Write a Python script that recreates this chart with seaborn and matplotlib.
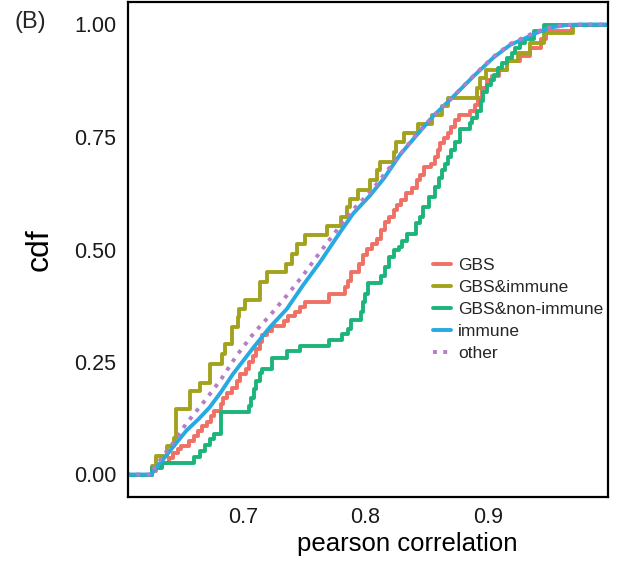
import matplotlib
matplotlib.use("Agg")
import matplotlib.pyplot as plt
import seaborn as sns

# ECDF: x = pearson correlation, y = cdf level after each jump
gbs_x = [0.626, 0.629, 0.634, 0.640, 0.643, 0.647, 0.650, 0.656, 0.660, 0.664, 0.667, 0.671,
         0.674, 0.677, 0.682, 0.684, 0.687, 0.691, 0.695, 0.698, 0.703, 0.705, 0.708, 0.711,
         0.714, 0.716, 0.720, 0.724, 0.734, 0.737, 0.743, 0.747, 0.751, 0.770, 0.783, 0.786,
         0.788, 0.795, 0.798, 0.801, 0.805, 0.809, 0.813, 0.816, 0.819, 0.823, 0.826, 0.829,
         0.833, 0.838, 0.842, 0.844, 0.848, 0.853, 0.857, 0.859, 0.861, 0.864, 0.867, 0.870,
         0.873, 0.876, 0.885, 0.889, 0.892, 0.895, 0.899, 0.903, 0.909, 0.915, 0.926, 0.934,
         0.943, 0.947, 0.968]
gbs_y = [0.007, 0.019, 0.026, 0.037, 0.048, 0.056, 0.063, 0.074, 0.086, 0.097, 0.108, 0.117,
         0.130, 0.141, 0.156, 0.171, 0.182, 0.193, 0.208, 0.223, 0.234, 0.249, 0.264, 0.279,
         0.294, 0.309, 0.320, 0.331, 0.342, 0.353, 0.361, 0.372, 0.383, 0.401, 0.416, 0.431,
         0.450, 0.468, 0.487, 0.502, 0.513, 0.524, 0.543, 0.561, 0.572, 0.587, 0.599, 0.610,
         0.625, 0.636, 0.654, 0.665, 0.684, 0.691, 0.706, 0.721, 0.736, 0.747, 0.758, 0.773,
         0.788, 0.799, 0.807, 0.822, 0.836, 0.859, 0.876, 0.885, 0.900, 0.918, 0.929, 0.948,
         0.967, 0.985, 1.000]

gbs_imm_x = [0.626, 0.629, 0.638, 0.644, 0.646, 0.657, 0.665, 0.673, 0.683, 0.686, 0.691,
             0.696, 0.697, 0.702, 0.714, 0.720, 0.735, 0.740, 0.744, 0.751, 0.769, 0.780,
             0.785, 0.787, 0.794, 0.804, 0.809, 0.812, 0.823, 0.825, 0.831, 0.843, 0.854,
             0.862, 0.867, 0.891, 0.893, 0.898, 0.915, 0.924, 0.934, 0.945, 0.969]
gbs_imm_y = [0.019, 0.041, 0.063, 0.082, 0.145, 0.186, 0.204, 0.245, 0.268, 0.290, 0.327,
             0.349, 0.368, 0.387, 0.428, 0.450, 0.468, 0.491, 0.513, 0.532, 0.552, 0.572,
             0.595, 0.613, 0.633, 0.654, 0.677, 0.695, 0.717, 0.738, 0.758, 0.779, 0.799,
             0.818, 0.836, 0.859, 0.881, 0.900, 0.918, 0.937, 0.959, 0.981, 1.000]

gbs_non_x = [0.626, 0.634, 0.660, 0.665, 0.669, 0.673, 0.677, 0.682, 0.705, 0.707, 0.709,
             0.711, 0.714, 0.716, 0.724, 0.736, 0.747, 0.770, 0.781, 0.786, 0.788, 0.796,
             0.798, 0.800, 0.802, 0.813, 0.816, 0.819, 0.823, 0.827, 0.830, 0.834, 0.841,
             0.844, 0.847, 0.852, 0.857, 0.860, 0.862, 0.865, 0.867, 0.870, 0.873, 0.877,
             0.885, 0.887, 0.891, 0.894, 0.896, 0.899, 0.902, 0.905, 0.908, 0.911, 0.915,
             0.919, 0.922, 0.926, 0.930, 0.937, 0.945]
gbs_non_y = [0.015, 0.026, 0.039, 0.052, 0.065, 0.078, 0.089, 0.138, 0.152, 0.171, 0.190,
             0.208, 0.225, 0.234, 0.259, 0.274, 0.286, 0.299, 0.312, 0.323, 0.343, 0.361,
             0.383, 0.401, 0.425, 0.442, 0.461, 0.483, 0.498, 0.506, 0.520, 0.535, 0.558,
             0.572, 0.595, 0.617, 0.639, 0.658, 0.677, 0.691, 0.706, 0.721, 0.740, 0.767,
             0.781, 0.792, 0.807, 0.829, 0.851, 0.866, 0.877, 0.888, 0.903, 0.914, 0.926,
             0.937, 0.948, 0.959, 0.967, 0.985, 1.000]

# immune / other have many genes, so their ecdf looks smooth
immune_x = [0.626, 0.627, 0.635, 0.645, 0.654, 0.664, 0.673, 0.682, 0.692, 0.709, 0.722,
            0.736, 0.749, 0.763, 0.779, 0.790, 0.804, 0.815, 0.828, 0.842, 0.855, 0.869,
            0.888, 0.904, 0.918, 0.928, 0.939, 0.950, 0.964, 0.977]
immune_y = [0.000, 0.006, 0.033, 0.067, 0.097, 0.123, 0.149, 0.182, 0.223, 0.283, 0.327,
            0.368, 0.420, 0.472, 0.537, 0.580, 0.621, 0.658, 0.710, 0.755, 0.796, 0.833,
            0.885, 0.926, 0.955, 0.967, 0.981, 0.993, 0.999, 1.000]

other_x = [0.626, 0.627, 0.635, 0.645, 0.654, 0.668, 0.682, 0.695, 0.709, 0.722, 0.736,
           0.749, 0.763, 0.777, 0.790, 0.804, 0.817, 0.831, 0.844, 0.858, 0.869, 0.888,
           0.904, 0.918, 0.928, 0.939, 0.950, 0.964, 0.977]
other_y = [0.000, 0.011, 0.041, 0.076, 0.113, 0.160, 0.210, 0.264, 0.314, 0.353, 0.398,
           0.442, 0.494, 0.544, 0.589, 0.628, 0.673, 0.721, 0.764, 0.804, 0.833, 0.886,
           0.928, 0.957, 0.970, 0.984, 0.993, 0.999, 1.000]

groups = ["GBS", "GBS&immune", "GBS&non-immune", "immune", "other"]
colors = ["#EF7064", "#A2A21E", "#1DB47A", "#27A9E1", "#B77CC6"]

sns.set_theme(style="white")
plt.rcParams["font.family"] = ["Liberation Sans", "DejaVu Sans"]

fig = plt.figure(figsize=(6.18, 5.70), dpi=100)
ax = fig.add_axes([128 / 618, 73 / 570, 480 / 618, 495 / 570])

x_min, x_max = 0.6066, 0.9975
lw = 2.8

series = [
    (gbs_x, gbs_y, "steps-post", "-"),
    (gbs_imm_x, gbs_imm_y, "steps-post", "-"),
    (gbs_non_x, gbs_non_y, "steps-post", "-"),
    (immune_x, immune_y, "default", "-"),
    (other_x, other_y, "default", ":"),
]
for (xs, ys, ds, ls), name, col in zip(series, groups, colors):
    # pad like stat_ecdf: start at 0 on the left edge, end at 1 on the right edge
    xx = [x_min - 0.01] + list(xs) + [x_max + 0.01]
    yy = [0.0] + list(ys) + [1.0]
    sns.lineplot(x=xx, y=yy, ax=ax, color=col, lw=lw, linestyle=ls,
                 drawstyle=ds, estimator=None, sort=False, label=name)

ax.set_xlim(x_min, x_max)
ax.set_ylim(-0.05, 1.05)
ax.set_xticks([0.7, 0.8, 0.9])
ax.set_xticklabels(["0.7", "0.8", "0.9"])
ax.set_yticks([0, 0.25, 0.5, 0.75, 1.0])
ax.set_yticklabels(["0.00", "0.25", "0.50", "0.75", "1.00"])
ax.tick_params(axis="both", length=2.6, width=1, color="#333333",
               labelsize=15.5, labelcolor="#1a1a1a")
ax.tick_params(axis="x", pad=4.5)
ax.tick_params(axis="y", pad=6)
for sp in ax.spines.values():
    sp.set_visible(True)
    sp.set_color("black")
    sp.set_linewidth(1.6)

ax.set_xlabel("pearson correlation", fontsize=18.5, color="black")
ax.xaxis.set_label_coords(0.581, -0.07)
ax.set_ylabel("cdf", fontsize=23, color="black", labelpad=14)

leg = ax.legend(loc="upper left", bbox_to_anchor=(0.635, 0.483), frameon=False,
                fontsize=12.5, handlelength=1.05, handletextpad=0.4,
                labelspacing=0.39, borderpad=0, borderaxespad=0)
for h in leg.get_lines():
    h.set_linewidth(lw)

fig.text(15 / 618, 1 - 22 / 570, "(B)", fontsize=17, va="center", ha="left")

fig.savefig("out.png", dpi=100)
